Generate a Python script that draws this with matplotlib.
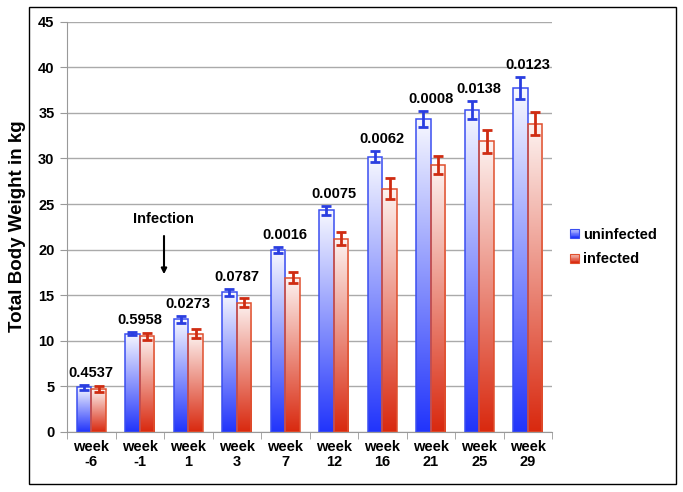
import numpy as np
import matplotlib
matplotlib.use("Agg")
import matplotlib.pyplot as plt
from matplotlib.patches import Rectangle
from matplotlib.legend_handler import HandlerBase
from matplotlib.colors import to_rgb

plt.rcParams['font.family'] = ['Liberation Sans', 'DejaVu Sans']

weeks = ['week\n-6', 'week\n-1', 'week\n1', 'week\n3', 'week\n7',
         'week\n12', 'week\n16', 'week\n21', 'week\n25', 'week\n29']
uninfected = [4.9, 10.8, 12.35, 15.3, 19.95, 24.3, 30.2, 34.3, 35.3, 37.7]
uninfected_err = [0.3, 0.2, 0.4, 0.4, 0.3, 0.5, 0.6, 0.9, 1.0, 1.2]
infected = [4.7, 10.5, 10.8, 14.2, 16.9, 21.2, 26.7, 29.3, 31.9, 33.8]
infected_err = [0.3, 0.4, 0.5, 0.5, 0.6, 0.7, 1.2, 1.0, 1.25, 1.25]
p_values = ['0.4537', '0.5958', '0.0273', '0.0787', '0.0016',
            '0.0075', '0.0062', '0.0008', '0.0138', '0.0123']

BLUE_DARK = '#2235fb'
RED_DARK = '#d92a10'
BLUE_EDGE = '#3a4ef0'
RED_EDGE = '#e0502e'
BLUE_ERR = '#2a3ee0'
RED_ERR = '#cf2c12'


def gradient(color, top_color, n=64):
    c0 = np.array(to_rgb(color))
    c1 = np.array(to_rgb(top_color))
    t = np.linspace(0, 1, n)[:, None]
    return c0 + (c1 - c0) * t


def gradient_bar(ax, x, h, width, color, top_color, edge):
    img = gradient(color, top_color)[:, None, :]
    ax.imshow(img, extent=(x - width / 2, x + width / 2, 0, h), origin='lower',
              aspect='auto', zorder=2, interpolation='bilinear')
    ax.add_patch(Rectangle((x - width / 2, 0), width, h, fill=False,
                           edgecolor=edge, linewidth=1.1, zorder=3))


class GradientHandler(HandlerBase):
    def __init__(self, color, top_color, edge):
        super().__init__()
        self.color = color
        self.top_color = top_color
        self.edge = edge

    def create_artists(self, legend, orig_handle, xdescent, ydescent,
                       width, height, fontsize, trans):
        cols = gradient(self.color, self.top_color, 12)
        arts = []
        n = len(cols)
        for k, c in enumerate(cols):
            arts.append(Rectangle((-xdescent, -ydescent + height * k / n), width,
                                  height / n, facecolor=c, edgecolor='none',
                                  transform=trans))
        arts.append(Rectangle((-xdescent, -ydescent), width, height, fill=False,
                              edgecolor=self.edge, linewidth=0.8, transform=trans))
        return arts


fig = plt.figure(figsize=(6.83, 4.92), dpi=100)
ax = fig.add_axes([0.0981, 0.1220, 0.7101, 0.8339])

x = np.arange(len(weeks))
w = 0.3
for i in x:
    gradient_bar(ax, i - 0.15, uninfected[i], w, BLUE_DARK, '#f6f7ff', BLUE_EDGE)
    gradient_bar(ax, i + 0.15, infected[i], w, RED_DARK, '#fdf2f0', RED_EDGE)

ax.errorbar(x - 0.15, uninfected, yerr=uninfected_err, fmt='none', ecolor=BLUE_ERR,
            elinewidth=2, capsize=3.5, capthick=2, zorder=4)
ax.errorbar(x + 0.15, infected, yerr=infected_err, fmt='none', ecolor=RED_ERR,
            elinewidth=2, capsize=3.5, capthick=2, zorder=4)

for i in x:
    ax.annotate(p_values[i], (i, uninfected[i] + uninfected_err[i]),
                xytext=(0, 3.5), textcoords='offset points', ha='center', va='bottom',
                fontsize=10.5, fontweight='bold', zorder=5)

ax.annotate('', xy=(1.5, 17.0), xytext=(1.5, 21.8),
            arrowprops=dict(arrowstyle='-|>', color='black', lw=1.5,
                            mutation_scale=8))
ax.text(1.48, 23.4, 'Infection', ha='center', va='center',
        fontsize=10.5, fontweight='bold')

ax.set_xlim(-0.5, len(weeks) - 0.5)
ax.set_ylim(0, 45)
ax.set_yticks(np.arange(0, 46, 5))
ax.set_xticks(x)
ax.set_xticklabels(weeks, fontsize=10.5, fontweight='bold', linespacing=1.1)
ax.set_xticks(np.arange(-0.5, len(weeks), 1), minor=True)
ax.tick_params(axis='x', which='major', length=0, pad=6)
ax.tick_params(axis='x', which='minor', length=5, color='#999999', direction='out')
ax.tick_params(axis='y', length=5, color='#999999', labelsize=10.5, pad=4)
for lab in ax.get_yticklabels():
    lab.set_fontweight('bold')
ax.yaxis.grid(True, color='#aaaaaa', linewidth=1)
ax.set_axisbelow(True)
for s in ['top', 'right']:
    ax.spines[s].set_visible(False)
ax.spines['left'].set_color('#999999')
ax.spines['bottom'].set_color('#999999')

fig.text(0.025, 0.54, 'Total Body Weight in kg', rotation=90, ha='center',
         va='center', fontsize=13.5, fontweight='bold')

h1 = Rectangle((0, 0), 1, 1)
h2 = Rectangle((0, 0), 1, 1)
leg = fig.legend([h1, h2], ['uninfected', 'infected'],
                 handler_map={h1: GradientHandler(BLUE_DARK, '#c8ccff', BLUE_EDGE),
                              h2: GradientHandler(RED_DARK, '#f6c8c0', RED_EDGE)},
                 loc='center left', bbox_to_anchor=(0.835, 1 - 247 / 492),
                 frameon=False, handlelength=0.6, handleheight=0.6,
                 handletextpad=0.3, labelspacing=0.75, borderaxespad=0,
                 borderpad=0, prop={'size': 10.5, 'weight': 'bold'})

fig.add_artist(Rectangle((29 / 683, 1 - 484 / 492), (676 - 29) / 683, (484 - 7) / 492,
                         transform=fig.transFigure, fill=False, edgecolor='black',
                         linewidth=1))

fig.savefig('out.png', dpi=100)
